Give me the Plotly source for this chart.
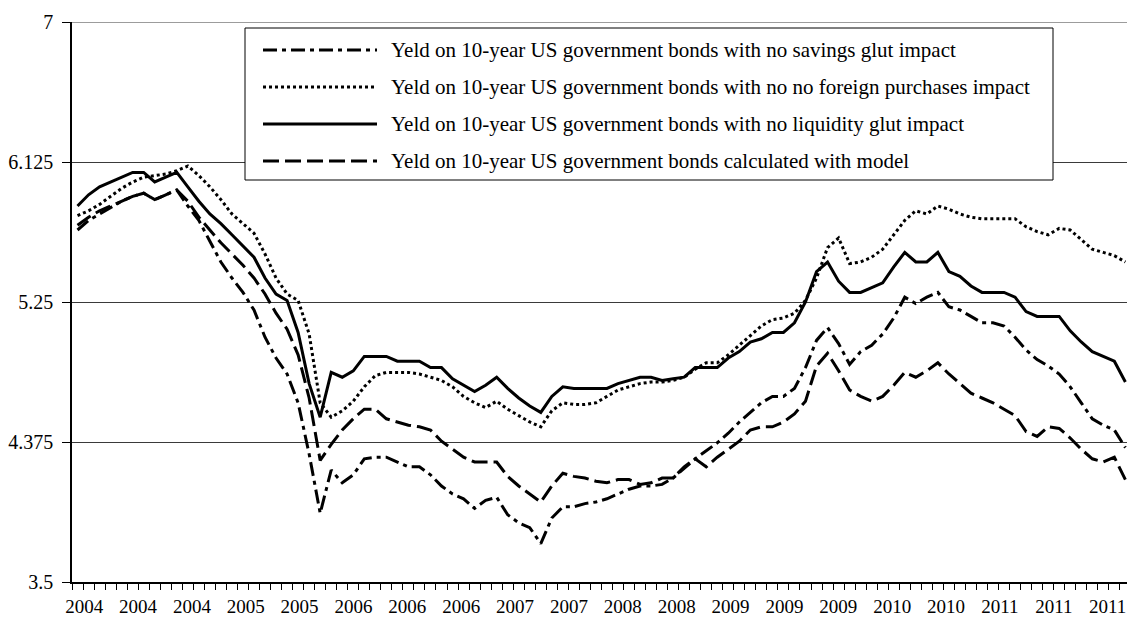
import numpy as np
import plotly.graph_objects as go

# Monthly observations, Jan 2004 .. Dec 2011
months = [f"{y}-{m:02d}" for y in range(2004, 2012) for m in range(1, 13)]

# Yield with no savings glut impact (dash-dot)
no_savings_glut = [
    5.70, 5.76, 5.80, 5.84, 5.88, 5.91, 5.93, 5.89, 5.92, 5.95,
    5.85, 5.76, 5.63, 5.50, 5.40, 5.31, 5.20, 5.03, 4.90, 4.80,
    4.62, 4.30, 3.93, 4.20, 4.12, 4.17, 4.27, 4.28, 4.28, 4.25,
    4.22, 4.22, 4.17, 4.10, 4.05, 4.02, 3.96, 4.01, 4.03, 3.92,
    3.87, 3.84, 3.74, 3.90, 3.97, 3.97, 3.99, 4.00, 4.02, 4.05,
    4.08, 4.10, 4.10, 4.11, 4.15, 4.21, 4.27, 4.32, 4.37, 4.43,
    4.50, 4.56, 4.62, 4.66, 4.66, 4.71, 4.84, 5.01, 5.09, 4.99,
    4.86, 4.94, 4.98, 5.05, 5.15, 5.28, 5.24, 5.28, 5.31, 5.22,
    5.20, 5.16, 5.12, 5.12, 5.10, 5.03, 4.95, 4.89, 4.85, 4.80,
    4.72, 4.62, 4.52, 4.48, 4.45, 4.34,
]

# Yield with no foreign purchases impact (dotted)
no_foreign_purchases = [
    5.79, 5.82, 5.86, 5.91, 5.96, 6.00, 6.03, 6.04, 6.05, 6.07,
    6.10, 6.04, 5.97, 5.89, 5.80, 5.74, 5.68, 5.55, 5.40, 5.30,
    5.26, 5.05, 4.62, 4.53, 4.57, 4.63, 4.72, 4.79, 4.81, 4.81,
    4.81, 4.80, 4.78, 4.76, 4.72, 4.66, 4.62, 4.59, 4.63, 4.58,
    4.54, 4.50, 4.47, 4.57, 4.62, 4.61, 4.61, 4.62, 4.66, 4.70,
    4.72, 4.74, 4.75, 4.75, 4.76, 4.78, 4.83, 4.87, 4.87, 4.92,
    4.98, 5.04, 5.10, 5.14, 5.15, 5.18, 5.26, 5.40, 5.59, 5.65,
    5.49, 5.50, 5.53, 5.58, 5.67, 5.76, 5.82, 5.80, 5.85, 5.83,
    5.80, 5.78, 5.77, 5.77, 5.77, 5.77, 5.72, 5.69, 5.67, 5.71,
    5.70, 5.64, 5.58, 5.56, 5.54, 5.50,
]

# Yield with no liquidity glut impact (solid)
no_liquidity_glut = [
    5.85, 5.92, 5.97, 6.00, 6.03, 6.06, 6.06, 6.00, 6.03, 6.06,
    5.97, 5.88, 5.80, 5.74, 5.67, 5.60, 5.53, 5.40, 5.30, 5.26,
    5.06, 4.74, 4.53, 4.81, 4.78, 4.82, 4.91, 4.91, 4.91, 4.88,
    4.88, 4.88, 4.84, 4.84, 4.77, 4.73, 4.69, 4.73, 4.78, 4.71,
    4.65, 4.60, 4.56, 4.66, 4.72, 4.71, 4.71, 4.71, 4.71, 4.74,
    4.76, 4.78, 4.78, 4.76, 4.77, 4.78, 4.84, 4.84, 4.84, 4.90,
    4.94, 5.00, 5.02, 5.06, 5.06, 5.12, 5.25, 5.44, 5.50, 5.38,
    5.31, 5.31, 5.34, 5.37, 5.47, 5.56, 5.50, 5.50, 5.56, 5.44,
    5.41, 5.35, 5.31, 5.31, 5.31, 5.28, 5.19, 5.16, 5.16, 5.16,
    5.07, 5.00, 4.94, 4.91, 4.88, 4.75,
]

# Yield calculated with model (dashed)
model_yield = [
    5.73, 5.78, 5.82, 5.85, 5.88, 5.91, 5.93, 5.89, 5.92, 5.95,
    5.88, 5.78, 5.70, 5.62, 5.55, 5.48, 5.40, 5.30, 5.18, 5.08,
    4.92, 4.65, 4.26, 4.36, 4.45, 4.52, 4.58, 4.58, 4.52, 4.50,
    4.48, 4.47, 4.45, 4.38, 4.33, 4.28, 4.25, 4.25, 4.25, 4.16,
    4.10, 4.05, 4.00, 4.10, 4.18, 4.16, 4.15, 4.13, 4.12, 4.14,
    4.14, 4.11, 4.12, 4.15, 4.15, 4.22, 4.27, 4.22, 4.28, 4.33,
    4.38, 4.45, 4.47, 4.47, 4.50, 4.55, 4.63, 4.85, 4.93, 4.82,
    4.70, 4.66, 4.63, 4.66, 4.73, 4.81, 4.78, 4.82, 4.87, 4.80,
    4.74, 4.68, 4.65, 4.62, 4.58, 4.54, 4.44, 4.41, 4.47, 4.46,
    4.40, 4.33, 4.27, 4.25, 4.28, 4.14,
]

series_names = [
    "Yeld on 10-year US government bonds with no savings glut impact",
    "Yeld on 10-year US government bonds with no no foreign purchases impact",
    "Yeld on 10-year US government bonds with no liquidity glut impact",
    "Yeld on 10-year US government bonds calculated with model",
]

x_tick_labels = ["2004", "2004", "2004", "2005", "2005", "2006", "2006", "2006",
                 "2007", "2007", "2008", "2008", "2009", "2009", "2009", "2010",
                 "2010", "2011", "2011", "2011"]

y_tick_values = [3.5, 4.375, 5.25, 6.125, 7]
y_tick_labels = ["3.5", "4.375", "5.25", "6.125", "7"]

FONT = "Liberation Serif, Times New Roman, serif"
FS_TICK = 19
FS_LEG = 21

series = [no_savings_glut, no_foreign_purchases, no_liquidity_glut, model_yield]
dashes = ["14px,5px,4px,5px", "3px,3px", "solid", "16px,6px"]

idx = list(range(len(months)))
n = len(months)

fig = go.Figure()
for vals, name, dash in zip(series, series_names, dashes):
    fig.add_trace(go.Scatter(
        x=idx, y=vals, mode="lines", name=name, showlegend=False,
        line=dict(color="black", width=3, dash=dash),
        customdata=months, hovertemplate="%{customdata}: %{y}<extra></extra>",
    ))

# ---- layout geometry (pixels) ----
W, H = 1127, 618
ML, MR, MT, MB = 72, 0, 22, 36
PW, PH = W - ML - MR, H - MT - MB
CAT_W = 11.03  # pixel width of one monthly category


def px(xp):
    return (xp - ML) / PW


def py(yp):
    return (H - MB - yp) / PH


# year labels spread evenly under the axis, as in the original chart
label_pos = np.linspace(0.6, 93.4, len(x_tick_labels))

# top gridline at the axis maximum
shapes = [dict(type="line", xref="paper", yref="y", x0=0, x1=1,
               y0=y_tick_values[-1], y1=y_tick_values[-1],
               line=dict(color="#3a3a3a", width=1.2), layer="below")]

# legend box drawn manually to get the long line samples of the original
shapes.append(dict(type="rect", xref="paper", yref="paper",
                   x0=px(245), x1=px(1053), y0=py(180), y1=py(28),
                   line=dict(color="black", width=1), fillcolor="white", layer="above"))
annotations = []
rows = [50, 87, 124, 161]
for name, dash, ry in zip(series_names, dashes, rows):
    shapes.append(dict(type="line", xref="paper", yref="paper",
                       x0=px(263), x1=px(377), y0=py(ry), y1=py(ry),
                       line=dict(color="black", width=3, dash=dash), layer="above"))
    annotations.append(dict(xref="paper", yref="paper", x=px(389), y=py(ry),
                            text=name, showarrow=False, xanchor="left", yanchor="middle",
                            font=dict(family=FONT, size=FS_LEG, color="black")))

fig.update_layout(
    width=W, height=H,
    margin=dict(l=ML, r=MR, t=MT, b=MB, pad=0, autoexpand=False),
    paper_bgcolor="white", plot_bgcolor="white",
    font=dict(family=FONT, size=FS_TICK, color="black"),
    shapes=shapes, annotations=annotations,
    showlegend=False,
    xaxis=dict(
        range=[-0.5, -0.5 + PW / CAT_W],
        tickmode="array",
        tickvals=list(label_pos),
        ticktext=x_tick_labels,
        ticks="", showgrid=False, zeroline=False, automargin=False,
        showline=True, linecolor="black", linewidth=1.5,
        ticklabelstandoff=6, ticklabeloverflow="allow",
        minor=dict(ticks="outside", ticklen=6, tickcolor="black", tickwidth=1,
                   tickmode="array", tickvals=[i - 0.5 for i in range(n + 1)]),
        tickfont=dict(family=FONT, size=FS_TICK, color="black"),
    ),
    yaxis=dict(
        range=[3.5, 7], automargin=False,
        tickmode="array", tickvals=y_tick_values, ticktext=y_tick_labels,
        ticks="outside", ticklen=8, tickcolor="black", tickwidth=1,
        showgrid=True, gridcolor="#3a3a3a", gridwidth=1, zeroline=False,
        showline=True, linecolor="black", linewidth=1.5,
        ticklabelstandoff=5,
        tickfont=dict(family=FONT, size=FS_TICK + 1, color="black"),
    ),
)

fig.write_html(
    "out.html",
    config={"displayModeBar": False},
    post_script="document.body.style.margin='0';document.body.style.overflow='hidden';",
)
